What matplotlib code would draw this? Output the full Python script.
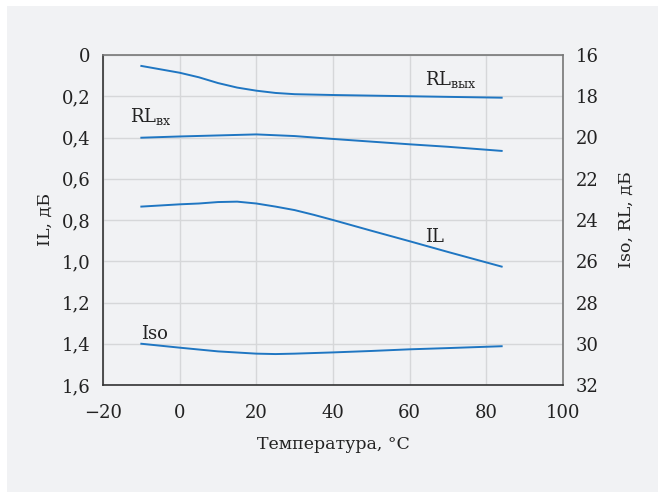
import matplotlib
matplotlib.use("Agg")
import matplotlib.pyplot as plt
from matplotlib.patches import Rectangle

# Data (temperature in °C)
t_rl_out = [-10, 0, 5, 10, 15, 20, 25, 30, 40, 50, 60, 70, 84]
rl_out = [16.53, 16.86, 17.08, 17.36, 17.58, 17.73, 17.84, 17.9, 17.94, 17.97, 18.0, 18.03, 18.07]

t_rl_in = [-10, 0, 10, 20, 30, 40, 50, 60, 70, 84]
rl_in = [20.01, 19.95, 19.9, 19.85, 19.93, 20.07, 20.2, 20.33, 20.45, 20.65]

t_il = [-10, 0, 5, 10, 15, 20, 25, 30, 35, 40, 50, 60, 70, 84]
il = [0.735, 0.724, 0.72, 0.713, 0.711, 0.72, 0.735, 0.752, 0.775, 0.80, 0.852, 0.903, 0.955, 1.026]

t_iso = [-10, 0, 10, 20, 25, 30, 40, 50, 60, 70, 84]
iso = [30.0, 30.19, 30.37, 30.48, 30.5, 30.48, 30.42, 30.35, 30.27, 30.21, 30.12]

x_ticks = [-20, 0, 20, 40, 60, 80, 100]
il_ticks = [0, 0.2, 0.4, 0.6, 0.8, 1.0, 1.2, 1.4, 1.6]
right_ticks = [16, 18, 20, 22, 24, 26, 28, 30, 32]

BG = "#f1f2f4"
LINE = "#1f76c2"
GRID = "#d6d7d9"
TXT = "#222222"

plt.rcParams['font.family'] = ['DejaVu Serif']

fig = plt.figure(figsize=(6.58, 4.92), dpi=100)
fig.patch.set_facecolor("white")
fig.patches.append(Rectangle((7/658, 0), 1 - 7/658, 1 - 6/492, transform=fig.transFigure,
                             facecolor=BG, edgecolor="none", zorder=-10))

L, R, T, B = 103, 563, 55, 385
ax = fig.add_axes([L/658, 1 - B/492, (R-L)/658, (B-T)/492])
ax.set_facecolor(BG)
ax.set_xlim(-20, 100)
ax.set_ylim(1.6, 0)
ax.set_xticks(x_ticks)
ax.set_xticklabels(["\u221220" if v < 0 else str(v) for v in x_ticks])
ax.set_yticks(il_ticks)
ax.set_yticklabels([("%.1f" % v).replace(".", ",") if v != 0 else "0" for v in il_ticks])
ax.grid(True, color=GRID, linewidth=1.0)
ax.set_axisbelow(True)
ax.tick_params(axis="y", length=0, labelsize=13, colors=TXT, pad=9)
ax.tick_params(axis="x", length=0, labelsize=13, colors=TXT, pad=14)

for s in ["left", "bottom"]:
    ax.spines[s].set_color("#333333")
    ax.spines[s].set_linewidth(1.2)
for s in ["top", "right"]:
    ax.spines[s].set_color("#777777")
    ax.spines[s].set_linewidth(1.2)

ax2 = ax.twinx()
ax2.set_ylim(32, 16)
ax2.set_yticks(right_ticks)
ax2.tick_params(length=0, labelsize=13, colors=TXT, pad=9)
for s in ax2.spines.values():
    s.set_visible(False)

ax.plot(t_il, il, color=LINE, linewidth=1.4)
ax2.plot(t_rl_out, rl_out, color=LINE, linewidth=1.4)
ax2.plot(t_rl_in, rl_in, color=LINE, linewidth=1.4)
ax2.plot(t_iso, iso, color=LINE, linewidth=1.4)

ax.set_xlabel("Температура, °C", fontsize=12.5, color=TXT, labelpad=10)
ax.set_ylabel("IL, дБ", fontsize=12.5, color=TXT, labelpad=6)
ax2.set_ylabel("Iso, RL, дБ", fontsize=12.5, color=TXT, labelpad=14)

ax2.text(64, 17.45, r"RL$_{\mathregular{вых}}$", fontsize=13, color=TXT)
ax2.text(-13, 19.25, r"RL$_{\mathregular{вх}}$", fontsize=13, color=TXT)
ax.text(64, 0.905, "IL", fontsize=13, color=TXT)
ax2.text(-10, 29.75, "Iso", fontsize=13, color=TXT)

fig.savefig("out.png", dpi=100, facecolor=fig.get_facecolor())
